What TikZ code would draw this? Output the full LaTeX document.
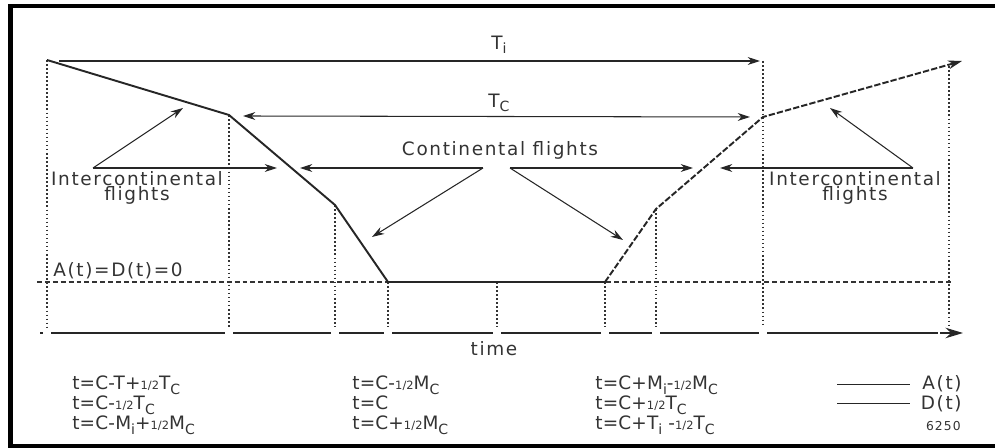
\documentclass[tikz,border=0pt]{standalone}
\usepackage{fontspec}
\setmainfont{DejaVu Sans}[LetterSpace=9]
\usepackage{tikz}
\usetikzlibrary{arrows.meta}

% small lowered index and the small one-half
\newcommand{\sbs}[1]{\raisebox{-0.45ex}{\fontsize{8}{8}\selectfont #1}}
\newcommand{\hlf}{{\fontsize{6.5}{6.5}\selectfont 1/2}}

\tikzset{
  flight/.style={line width=1.1pt,black!85},
  pointer/.style={line width=0.6pt,black!85},
  guide/.style={line width=0.7pt,black!80,dash pattern=on 0.9pt off 1.4pt},
  zeroline/.style={line width=0.6pt,black!80,dash pattern=on 2.8pt off 1.7pt},
  timeaxis/.style={line width=0.7pt,black!85},
  lbl/.style={inner sep=0pt,align=center,text=black!80},
  instant/.style={lbl,anchor=base west,font=\fontsize{10.5}{9}\selectfont\addfontfeatures{LetterSpace=1}}
}

\begin{document}
\begin{tikzpicture}[x=0.02cm,y=-0.02cm,>={Stealth[length=7pt,width=4.5pt]},
  font=\fontsize{10.5}{9}\selectfont]
\useasboundingbox (0,0) rectangle (995,448);
% frame
\draw[line width=2.3pt] (995,6) -- (10.5,6) -- (10.5,446) -- (995,446);

% corner points of A(t) and D(t)
\coordinate (a0) at (47,60);
\coordinate (a1) at (229,115);
\coordinate (a2) at (335,205);
\coordinate (a3) at (388,282);
\coordinate (d0) at (605,282);
\coordinate (d1) at (656,209);
\coordinate (d2) at (763,117);
\coordinate (d3) at (962,61);

% guides
\draw[zeroline] (37,282) -- (952,282);
\foreach \x/\y in {47/60,229/115,335/205,388/282,497/282,605/282,656/209,763/61,949/66}
  \draw[guide] (\x,\y) -- (\x,327);

% time axis
\foreach \a/\b in {40/43,51/225,233/331,339/384,392/493,501/601,609/652,660/759,767/938}
  \draw[timeaxis] (\a,333) -- (\b,333);
\draw[timeaxis,-{Stealth[length=10pt,width=6pt]}] (940,333) -- (963,333);

% the curves
\draw[flight] (a0) -- (a1) -- (a2) -- (a3) -- (d0);
\draw[flight,dash pattern=on 3.6pt off 1.2pt,-{Stealth[length=8pt,width=5pt]}]
  (d0) -- (d1) -- (d2) -- (d3);

% spans
\coordinate (tis) at (59,61);
\coordinate (tie) at (760,61);
\coordinate (tcs) at (243,116);
\coordinate (tce) at (750,117);
\draw[pointer,->] (tis) -- (tie);
\draw[pointer,<->] (tcs) -- (tce);
\node[lbl] (ti) at (499,45) {T\sbs{i}};
\node[lbl] (tc) at (499,103) {T\sbs{C}};

% labels with pointers
\node[lbl] (cont) at (500,150) {Continental flights};
\node[lbl] (icl) at (137,188) {Intercontinental\\flights};
\node[lbl] (icr) at (855,188) {Intercontinental\\flights};

\coordinate (vl) at (93,168);
\coordinate (vcl) at (483,168);
\coordinate (vcr) at (510,168);
\coordinate (vr) at (913,168);
\coordinate (pl1) at (277,168);
\coordinate (pl2) at (183,108);
\coordinate (pcl1) at (300,168);
\coordinate (pcl2) at (372,237);
\coordinate (pcr1) at (693,168);
\coordinate (pcr2) at (623,240);
\coordinate (pr1) at (720,168);
\coordinate (pr2) at (830,108);
\draw[pointer,->] (vl) -- (pl1);
\draw[pointer,->] (vl) -- (pl2);
\draw[pointer,->] (vcl) -- (pcl1);
\draw[pointer,->] (vcl) -- (pcl2);
\draw[pointer,->] (vcr) -- (pcr1);
\draw[pointer,->] (vcr) -- (pcr2);
\draw[pointer,->] (vr) -- (pr1);
\draw[pointer,->] (vr) -- (pr2);

\node[lbl,anchor=west] (zero) at (53,271) {A(t)=D(t)=0};
\node[lbl] (time) at (494,349) {time};

% instants
\node[instant] (t1) at (72,390) {t=C-T+\hlf T\sbs{C}};
\node[instant] (t2) at (72,410) {t=C-\hlf T\sbs{C}};
\node[instant] (t3) at (72,430) {t=C-M\sbs{i}+\hlf M\sbs{C}};
\node[instant] (t4) at (352,390) {t=C-\hlf M\sbs{C}};
\node[instant] (t5) at (352,410) {t=C};
\node[instant] (t6) at (352,430) {t=C+\hlf M\sbs{C}};
\node[instant] (t7) at (595,390) {t=C+M\sbs{i}-\hlf M\sbs{C}};
\node[instant] (t8) at (595,410) {t=C+\hlf T\sbs{C}};
\node[instant] (t9) at (595,430) {t=C+T\sbs{i} -\hlf T\sbs{C}};

% legend
\node[lbl,anchor=base east] (la) at (962,390) {A(t)};
\node[lbl,anchor=base east] (ld) at (962,410) {D(t)};
\node[lbl,anchor=base east,font=\fontsize{7}{7}\selectfont] (fig) at (961,431) {6250};
\coordinate (la0) at (837,384);
\coordinate (la1) at (910,384);
\coordinate (ld0) at (837,403);
\coordinate (ld1) at (910,403);
\draw[pointer,line width=0.5pt] (la0) -- (la1);
\draw[pointer,line width=0.5pt] (ld0) -- (ld1);
\end{tikzpicture}
\end{document}
